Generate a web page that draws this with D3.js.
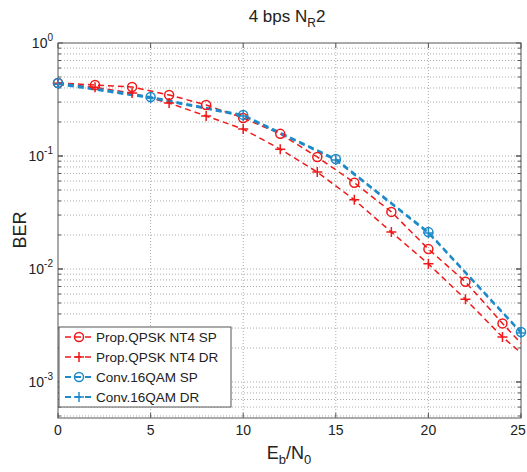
<!DOCTYPE html>
<html><head><meta charset="utf-8">
<script src="https://cdn.jsdelivr.net/npm/d3@7"></script>
<style>body{margin:0;background:#fff}svg{display:block}text{font-family:Arial,"Liberation Sans",sans-serif;fill:#222}</style>
</head><body><svg id="c" width="527" height="472"></svg>
<script>
const ebnoRed = [0,2,4,6,8,10,12,14,16,18,20,22,24,25];
const propSP = [0.443,0.425,0.408,0.347,0.283,0.217,0.157,0.098,0.058,0.032,0.015,0.0077,0.0033,0.0022];
const propDR = [0.44,0.405,0.361,0.294,0.226,0.173,0.115,0.072,0.041,0.0212,0.0111,0.0054,0.0025,0.00181];
const ebnoBlue = [0,5,10,15,20,25];
const convSP = [0.443,0.333,0.231,0.094,0.0212,0.00277];
const convDR = [0.432,0.326,0.226,0.092,0.0208,0.00272];
const xTicks = [0,5,10,15,20,25];
const yTickExp = [0,-1,-2,-3];
const legendLabels = ["Prop.QPSK NT4 SP","Prop.QPSK NT4 DR","Conv.16QAM SP","Conv.16QAM DR"];

const red = "#f01818", blue = "#1f8ac8";
const series = [
  {x: ebnoRed, y: propSP, color: red, marker: "o", w: 1.5, markEvery: d => d <= 24},
  {x: ebnoRed, y: propDR, color: red, marker: "+", w: 1.5, markEvery: d => d <= 24},
  {x: ebnoBlue, y: convSP, color: blue, marker: "o", w: 2, markEvery: d => true},
  {x: ebnoBlue, y: convDR, color: blue, marker: "+", w: 2, markEvery: d => true}
];

const L = 58, R = 521, T = 43, B = 418;
const svg = d3.select("#c");
const x = d3.scaleLinear().domain([0,25]).range([L,R]);
const y = d3.scaleLog().domain([4.8e-4,1]).range([B,T]);

// grid
const g = svg.append("g");
xTicks.slice(1,-1).forEach(t => g.append("line").attr("x1",x(t)).attr("x2",x(t)).attr("y1",T).attr("y2",B)
  .attr("stroke","#aaa").attr("stroke-width",1).attr("stroke-dasharray","1,2"));
const minor = [];
for (let e=-4;e<0;e++) for (let m=1;m<10;m++){const v=m*Math.pow(10,e); if(v>4.8e-4 && v<1) minor.push(v);}
minor.forEach(v => g.append("line").attr("x1",L).attr("x2",R).attr("y1",y(v)).attr("y2",y(v))
  .attr("stroke","#aaa").attr("stroke-width",1).attr("stroke-dasharray","1,2"));

// box + ticks
const axc = "#555";
svg.append("rect").attr("x",L).attr("y",T).attr("width",R-L).attr("height",B-T).attr("fill","none").attr("stroke",axc).attr("stroke-width",1);
xTicks.forEach(t => {
  svg.append("line").attr("x1",x(t)).attr("x2",x(t)).attr("y1",B).attr("y2",B-5).attr("stroke",axc);
  svg.append("line").attr("x1",x(t)).attr("x2",x(t)).attr("y1",T).attr("y2",T+5).attr("stroke",axc);
  svg.append("text").attr("x",Math.min(x(t),518)).attr("y",435).attr("text-anchor","middle").attr("font-size",14).text(t);
});
minor.concat(yTickExp.map(e=>Math.pow(10,e))).forEach(v => {
  const len = (Math.abs(Math.log10(v) - Math.round(Math.log10(v)))<1e-9) ? 5 : 3;
  svg.append("line").attr("x1",L).attr("x2",L+len).attr("y1",y(v)).attr("y2",y(v)).attr("stroke",axc);
  svg.append("line").attr("x1",R).attr("x2",R-len).attr("y1",y(v)).attr("y2",y(v)).attr("stroke",axc);
});
yTickExp.forEach(e => {
  const t = svg.append("text").attr("x",53).attr("y",y(Math.pow(10,e))+5).attr("text-anchor","end").attr("font-size",14);
  t.append("tspan").text("10");
  t.append("tspan").attr("dy",-7).attr("font-size",10).text(e);
});

// lines
const line = d3.line().x(d=>x(d[0])).y(d=>y(d[1]));
series.forEach(s => {
  const pts = s.x.map((v,i)=>[v,s.y[i]]);
  svg.append("path").attr("d",line(pts)).attr("fill","none").attr("stroke",s.color).attr("stroke-width",s.w).attr("stroke-dasharray","6,4");
});
function drawMarker(sel, type, cx, cy, color){
  if (type==="o") sel.append("circle").attr("cx",cx).attr("cy",cy).attr("r",4.5).attr("fill","none").attr("stroke",color).attr("stroke-width",1.5);
  else sel.append("path").attr("d",`M${cx-5},${cy}H${cx+5}M${cx},${cy-5}V${cy+5}`).attr("stroke",color).attr("stroke-width",1.5);
}
series.forEach(s => {
  s.x.forEach((v,i) => { if (s.markEvery(v)) drawMarker(svg, s.marker, x(v), y(s.y[i]), s.color); });
});

// legend
const lg = svg.append("g");
lg.append("rect").attr("x",59).attr("y",327).attr("width",172).attr("height",80).attr("fill","#fff").attr("stroke",axc);
legendLabels.forEach((lab,i) => {
  const s = series[i], ly = 337 + i*20;
  lg.append("line").attr("x1",65).attr("x2",93).attr("y1",ly).attr("y2",ly).attr("stroke",s.color).attr("stroke-width",s.w).attr("stroke-dasharray","6,4");
  drawMarker(lg, s.marker, 79, ly, s.color);
  lg.append("text").attr("x",96).attr("y",ly+5).attr("font-size",13.5).text(lab);
});

// title
const tt = svg.append("text").attr("x",287).attr("y",22).attr("text-anchor","middle").attr("font-size",17);
tt.append("tspan").text("4 bps N");
tt.append("tspan").attr("dy",5).attr("font-size",12).text("R");
tt.append("tspan").attr("dy",-5).text("2");
// labels
const xl = svg.append("text").attr("x",289).attr("y",459).attr("text-anchor","middle").attr("font-size",18);
xl.append("tspan").text("E");
xl.append("tspan").attr("dy",5).attr("font-size",13).text("b");
xl.append("tspan").attr("dy",-5).text("/N");
xl.append("tspan").attr("dy",5).attr("font-size",13).text("0");
svg.append("text").attr("transform","translate(26,230) rotate(-90)").attr("text-anchor","middle").attr("font-size",18).text("BER");
</script></body></html>
